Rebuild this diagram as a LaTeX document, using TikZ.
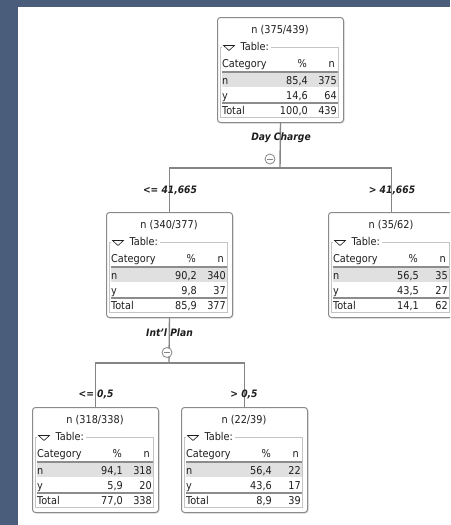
\documentclass[tikz,border=0pt]{standalone}
\usepackage{fontspec}
\setmainfont{DejaVu Sans Condensed}
\usetikzlibrary{shadows,calc}
\definecolor{bgblue}{HTML}{4A5D7B}
\definecolor{boxline}{HTML}{8A8A8A}
\definecolor{frameline}{HTML}{C4C4C4}
\definecolor{rowfill}{HTML}{E0E0E0}
\definecolor{rulecol}{HTML}{8C8C8C}
\definecolor{txtcol}{HTML}{1E1E1E}
\definecolor{conncol}{HTML}{858585}
\tikzset{
  dtframe/.style={draw=boxline, line width=1pt, fill=white, rounded corners=3pt,
    minimum width=126pt, minimum height=105pt, inner sep=0pt,
    drop shadow={shadow xshift=1pt, shadow yshift=-1pt, fill=black!25}},
  innerframe/.style={draw=frameline, line width=0.8pt},
  tri/.style={draw=txtcol, line width=0.6pt, line join=miter},
  celltxt/.style={inner sep=0pt, text=txtcol, font=\fontsize{10.8}{12}\selectfont},
  hdrrule/.style={draw=rulecol, line width=1.6pt},
  totrule/.style={draw=rulecol, line width=1.1pt},
  conn/.style={draw=conncol, line width=1.4pt},
  brlabel/.style={inner sep=0pt, text=txtcol, font=\fontsize{10.2}{12}\selectfont\bfseries\itshape},
  minuscirc/.style={draw=conncol, line width=0.8pt, fill=white, circle, minimum size=10pt, inner sep=0pt},
  minusbar/.style={draw=conncol, line width=0.8pt},
}
% #1 name, #2 top-left, #3 title, #4 n%, #5 n n, #6 y%, #7 y n, #8 total %, #9 total n
\newcommand\dtbox[9]{%
  \node[dtframe, anchor=north west] (#1) at (#2) {};
  \begin{scope}[shift={(#1.north west)}]
    \draw[innerframe] (3,30) rectangle (121,100);
    \fill[white] (5,25) rectangle (54,35);
    \draw[tri] (6.5,28.5) -- (17.5,28.5) -- (12,33.5) -- cycle;
    \node[celltxt, anchor=base west] (#1-leg) at (23.5,33.5) {Table:};
    \node[celltxt, anchor=base] (#1-title) at (63,16) {#3};
    \fill[rowfill] (5,56) rectangle (121,69.5);
    \draw[hdrrule] (5,55) -- (121,55);
    \draw[totrule] (5,86) -- (121,86);
    \node[celltxt, anchor=base west] (#1-hc) at (5,50) {Category};
    \node[celltxt, anchor=base east] (#1-hp) at (90,50) {\%};
    \node[celltxt, anchor=base east] (#1-hn) at (118,50) {n};
    \node[celltxt, anchor=base west] (#1-nc) at (5,67) {n};
    \node[celltxt, anchor=base east] (#1-np) at (91,67) {#4};
    \node[celltxt, anchor=base east] (#1-nn) at (120,67) {#5};
    \node[celltxt, anchor=base west] (#1-yc) at (5,82) {y};
    \node[celltxt, anchor=base east] (#1-yp) at (91,82) {#6};
    \node[celltxt, anchor=base east] (#1-yn) at (120,82) {#7};
    \node[celltxt, anchor=base west] (#1-tc) at (5,97) {Total};
    \node[celltxt, anchor=base east] (#1-tp) at (91,97) {#8};
    \node[celltxt, anchor=base east] (#1-tn) at (120,97) {#9};
  \end{scope}}
\begin{document}
\begin{tikzpicture}[x=1pt, y=-1pt]
  \useasboundingbox (0,0) rectangle (450,525);
  \clip (0,0) rectangle (450,525);
  \fill[bgblue] (0,0) rectangle (450,525);
  \fill[white] (18,7) rectangle (452,527);

  \dtbox{root}{217,17}{n (375/439)}{85,4}{375}{14,6}{64}{100,0}{439}
  \dtbox{mleft}{106,212}{n (340/377)}{90,2}{340}{9,8}{37}{85,9}{377}
  \dtbox{mright}{328,212}{n (35/62)}{56,5}{35}{43,5}{27}{14,1}{62}
  \dtbox{bleft}{32,407}{n (318/338)}{94,1}{318}{5,9}{20}{77,0}{338}
  \dtbox{bright}{181,407}{n (22/39)}{56,4}{22}{43,6}{17}{8,9}{39}

  % split points
  \coordinate (s1) at (280,168);
  \coordinate (s2) at (169,363);

  % connectors
  \draw[conn] (root.south) -- (s1);
  \draw[conn] (mleft.north) |- (s1);
  \draw[conn] (mright.north) |- (s1);
  \draw[conn] (mleft.south) -- (s2);
  \draw[conn] (bleft.north) |- (s2);
  \draw[conn] (bright.north) |- (s2);

  % split labels and markers
  \node[brlabel, anchor=base] (l1) at (281,140.5) {Day Charge};
  \node[minuscirc] (c1) at (270,159) {};
  \draw[minusbar] ($(c1.west)+(2.5,0)$) -- ($(c1.east)+(-2.5,0)$);
  \node[brlabel, anchor=base] (b1) at (170,193) {<= 41,665};
  \node[brlabel, anchor=base] (b2) at (392,193) {> 41,665};

  \node[brlabel, anchor=base] (l2) at (169.5,336.5) {Int'l Plan};
  \node[minuscirc] (c2) at (167,352.5) {};
  \draw[minusbar] ($(c2.west)+(2.5,0)$) -- ($(c2.east)+(-2.5,0)$);
  \node[brlabel, anchor=base] (b3) at (96,397) {<= 0,5};
  \node[brlabel, anchor=base] (b4) at (244,397) {> 0,5};
\end{tikzpicture}
\end{document}
